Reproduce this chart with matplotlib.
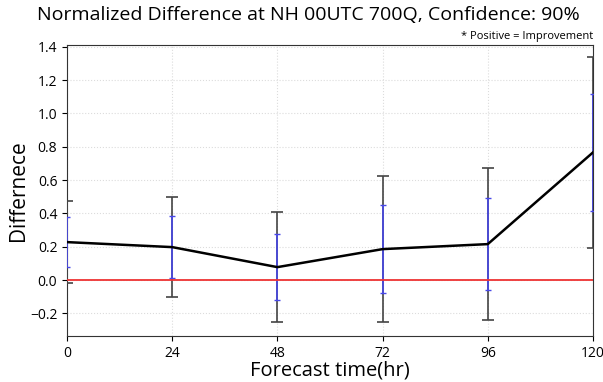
import matplotlib
matplotlib.use("Agg")
import matplotlib.pyplot as plt
import numpy as np

plt.rcParams['font.family'] = ['Open Sans', 'DejaVu Sans']

lead_hours = [0, 24, 48, 72, 96, 120]
mean_diff = [0.228, 0.198, 0.078, 0.186, 0.216, 0.766]
ci_outer_half = [0.244, 0.302, 0.332, 0.438, 0.454, 0.571]
ci_inner_half = [0.148, 0.184, 0.200, 0.266, 0.276, 0.350]
x_ticks = [0, 24, 48, 72, 96, 120]

fig = plt.figure(figsize=(6.03, 3.82), dpi=100)
ax = fig.add_axes([67/603, 1-336/382, (593-67)/603, (336-45)/382])

ax.grid(True, color='#dcdcdc', linestyle=':', linewidth=0.8)
ax.set_axisbelow(True)

ax.errorbar(lead_hours, mean_diff, yerr=ci_outer_half, fmt='none',
            ecolor='#444444', elinewidth=1.2, capsize=4, capthick=1.2, zorder=3)
ax.errorbar(lead_hours, mean_diff, yerr=ci_inner_half, fmt='none',
            ecolor='#4848e8', elinewidth=1.2, capsize=2, capthick=1.0, zorder=4)
ax.axhline(0, color='#ee3333', linewidth=1.3, zorder=5)
ax.plot(lead_hours, mean_diff, color='black', linewidth=1.8, zorder=6)

ax.set_xlim(0, 120)
ax.set_ylim(-0.335, 1.41)
ax.set_xticks(x_ticks)
ax.set_yticks(np.arange(-0.2, 1.41, 0.2))
ax.tick_params(labelsize=10)
for s in ax.spines.values():
    s.set_color('#333333')

ax.set_xlabel('Forecast time(hr)', fontsize=14.5, labelpad=0)
ax.set_ylabel('Differnece', fontsize=15, labelpad=1)
fig.suptitle('Normalized Difference at NH 00UTC 700Q, Confidence: 90%', fontsize=14, x=0.512, y=0.985)
ax.text(1.0, 1.01, '* Positive = Improvement', transform=ax.transAxes,
        ha='right', va='bottom', fontsize=8)

fig.savefig('out.png', dpi=100)
